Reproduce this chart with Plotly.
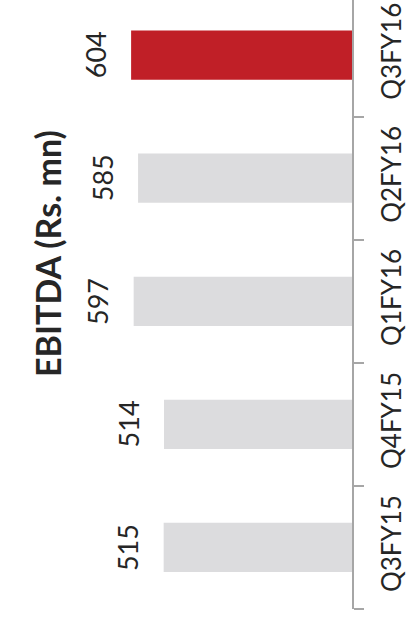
import plotly.graph_objects as go

# EBITDA by quarter (Rs. mn)
quarters = ["Q3FY15", "Q4FY15", "Q1FY16", "Q2FY16", "Q3FY16"]
ebitda = [515, 514, 597, 585, 604]
bar_colors = ["#DCDCDE", "#DCDCDE", "#DCDCDE", "#DCDCDE", "#C01F27"]

W, H = 407, 620
FONT = "Lato"

fig = go.Figure()
fig.add_trace(go.Bar(
    x=ebitda,
    y=quarters,
    orientation="h",
    marker=dict(color=bar_colors, line=dict(width=0)),
    width=0.40,
    hoverinfo="skip",
))

annotations = []
for q, v in zip(quarters, ebitda):
    annotations.append(dict(
        x=v, y=q, xref="x", yref="y",
        text=str(v), showarrow=False, textangle=-90,
        xanchor="center", yanchor="middle", xshift=-36,
        font=dict(family=FONT, size=27, color="#262626"),
    ))

annotations.append(dict(
    x=47 / W, y=1 - 254 / H, xref="paper", yref="paper",
    text="<b>EBITDA (Rs. mn)</b>", showarrow=False, textangle=-90,
    xanchor="center", yanchor="middle",
    font=dict(family=FONT, size=34, color="#262626"),
))

fig.update_layout(
    width=W, height=H,
    margin=dict(l=0, r=0, t=0, b=0),
    paper_bgcolor="white", plot_bgcolor="white",
    showlegend=False,
    annotations=annotations,
    xaxis=dict(
        range=[700, 0], domain=[96 / W, 352 / W],
        showgrid=False, zeroline=False, showline=False,
        showticklabels=False, ticks="",
    ),
    yaxis=dict(
        type="category", categoryorder="array", categoryarray=quarters,
        range=[-0.5, 4.448], domain=[11 / H, 1],
        side="right", anchor="x",
        showgrid=False, zeroline=False,
        showline=True, linecolor="#A6A6A6", linewidth=1.5,
        ticks="outside", ticklen=10, tickwidth=1.5, tickcolor="#A6A6A6",
        tickson="boundaries", tickangle=-90,
        ticklabelstandoff=16,
        tickfont=dict(family=FONT, size=26, color="#262626"),
    ),
)

fig.write_html("out.html")
